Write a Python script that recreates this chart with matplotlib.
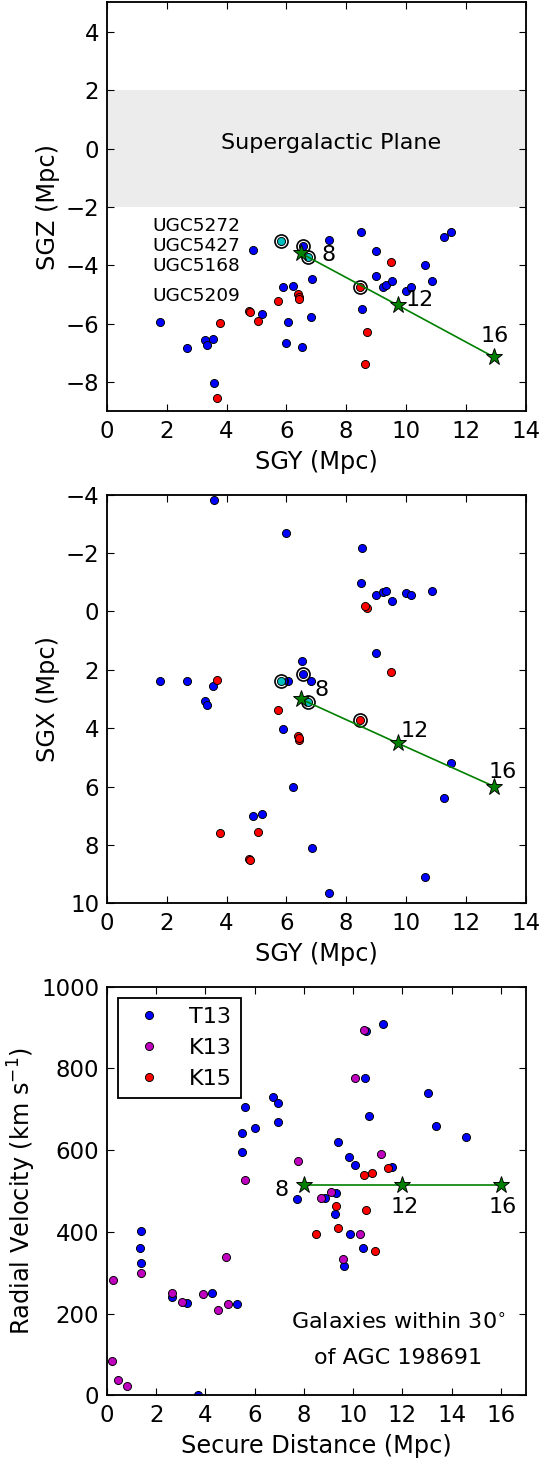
import matplotlib
matplotlib.use('Agg')
import matplotlib.pyplot as plt

# galaxies with 3D supergalactic positions (Mpc)
t13_sgy = [1.77, 2.68, 3.27, 3.33, 3.53, 3.59, 4.90, 5.20, 5.90, 6.04, 5.99, 6.21, 6.52, 6.57, 6.82,
           6.86, 7.43, 8.48, 8.53, 9.00, 9.00, 9.23, 9.34, 9.54, 10.01, 10.16, 10.63, 10.87, 11.28, 11.51]
t13_sgz = [-5.95, -6.84, -6.56, -6.72, -6.53, -8.01, -3.46, -5.66, -4.73, -5.95, -6.67, -4.70, -6.79, -3.33, -5.78,
           -4.47, -3.13, -2.85, -5.49, -3.52, -4.35, -4.75, -4.66, -4.52, -4.88, -4.73, -4.00, -4.53, -3.04, -2.86]
t13_sgx = [2.39, 2.37, 3.08, 3.19, 2.57, -3.82, 7.02, 6.95, 4.04, 2.37, -2.68, 6.01, 1.69, 2.16, 2.37,
           8.09, 9.63, -0.98, -2.16, -0.56, 1.41, -0.65, -0.70, -0.37, -0.63, -0.56, 9.11, -0.71, 6.40, 5.19]

k15_sgy = [3.69, 3.78, 4.74, 4.80, 5.06, 5.71, 6.38, 6.41, 6.43, 8.46, 8.69, 8.63, 9.51]
k15_sgz = [-8.53, -5.97, -5.56, -5.58, -5.90, -5.21, -4.98, -5.08, -5.14, -4.73, -6.28, -7.38, -3.87]
k15_sgx = [2.35, 7.59, 8.47, 8.52, 7.56, 3.39, 4.28, 4.40, 4.35, 3.72, -0.13, -0.19, 2.06]

cyan_sgy = [5.83, 6.71]
cyan_sgz = [-3.18, -3.73]
cyan_sgx = [2.39, 3.11]

# circled UGC galaxies
ugc_names = ['UGC5272', 'UGC5427', 'UGC5168', 'UGC5209']
ugc_sgy = [5.83, 6.57, 6.71, 8.46]
ugc_sgz = [-3.18, -3.33, -3.73, -4.73]
ugc_sgx = [2.39, 2.16, 3.11, 3.72]

# AGC 198691 placed at 8, 12, 16 Mpc
star_dist = [8, 12, 16]
star_sgy = [6.48, 9.72, 12.96]
star_sgz = [-3.58, -5.36, -7.15]
star_sgx = [3.00, 4.51, 6.00]
star_vel = [514, 514, 514]

# distance vs velocity
t13_d = [6.74, 6.94, 5.60, 6.00, 5.48, 6.94, 5.48, 10.52, 11.23, 10.48, 13.02, 10.63, 13.38, 14.60, 9.40,
         9.83, 10.09, 11.57, 7.70, 8.85, 9.30, 9.26, 9.87, 10.40, 9.61, 1.39, 1.36, 1.39, 2.64, 3.24,
         4.25, 5.30, 3.71]
t13_v = [731, 715, 705, 654, 642, 669, 596, 892, 908, 776, 739, 683, 660, 633, 621,
         582, 563, 558, 481, 484, 496, 444, 395, 361, 317, 402, 360, 323, 242, 227,
         250, 223, 0]
k13_d = [5.60, 7.74, 10.43, 10.06, 11.13, 8.68, 9.09, 10.29, 9.57, 1.37, 0.26, 2.65, 3.04, 3.91,
         4.84, 4.51, 4.90, 0.22, 0.43, 0.82]
k13_v = [526, 573, 893, 776, 591, 484, 497, 395, 334, 299, 282, 251, 228, 248,
         338, 210, 224, 84, 39, 23]
k15_d = [11.42, 10.78, 10.44, 9.29, 10.52, 9.37, 8.48, 10.87]
k15_v = [556, 543, 538, 463, 453, 410, 395, 353]

plt.rcParams.update({
    'font.family': 'DejaVu Sans',
    'font.size': 16,
    'axes.labelsize': 17.3,
    'axes.labelpad': 4,
    'axes.linewidth': 1.33,
    'xtick.direction': 'in', 'ytick.direction': 'in',
    'xtick.top': True, 'ytick.right': True,
    'xtick.major.size': 5.3, 'ytick.major.size': 5.3,
    'xtick.major.width': 0.8, 'ytick.major.width': 0.8,
    'xtick.major.pad': 6.5, 'ytick.major.pad': 5.5,
    'xtick.labelsize': 16.5, 'ytick.labelsize': 16.5,
    'xtick.minor.visible': False, 'ytick.minor.visible': False,
    'lines.markersize': 5.8,
    'lines.markeredgewidth': 0.67,
})

fig = plt.figure(figsize=(5.42, 14.6), dpi=100)
left, width, height = 0.1974, 0.7722, 0.2801

mk = dict(linestyle='none', marker='o', markeredgecolor='k')
ring = dict(linestyle='none', marker='o', markerfacecolor='none', markeredgecolor='k',
            markersize=9.4, markeredgewidth=1.2)
star = dict(color='g', marker='*', markersize=12.5, markeredgecolor='k', linewidth=1.2)

# --- SGY vs SGZ ---
ax1 = fig.add_axes([left, 0.7182, width, height])
ax1.axhspan(-2, 2, color='0.925', lw=0, zorder=0)
ax1.text(7.5, 0, 'Supergalactic Plane', ha='center', va='baseline')
ax1.plot(t13_sgy, t13_sgz, color='b', **mk)
ax1.plot(k15_sgy, k15_sgz, color='r', **mk)
ax1.plot(cyan_sgy, cyan_sgz, color='c', **mk)
ax1.plot(ugc_sgy, ugc_sgz, **ring)
ax1.plot(star_sgy, star_sgz, **star)
for name, yy in zip(ugc_names, [-2.66, -3.35, -4.03, -5.06]):
    ax1.text(1.52, yy, name, fontsize=13.3, ha='left', va='center')
for lab, xx, yy in zip(star_dist, [7.42, 10.46, 12.97], [-3.66, -5.17, -6.43]):
    ax1.text(xx, yy, str(lab), ha='center', va='center')
ax1.set_xlim(0, 14)
ax1.set_ylim(-9, 5)
ax1.set_xticks(range(0, 15, 2))
ax1.set_yticks(range(-8, 5, 2))
ax1.set_xlabel('SGY (Mpc)', labelpad=5)
ax1.set_ylabel('SGZ (Mpc)')

# --- SGY vs SGX ---
ax2 = fig.add_axes([left, 0.3812, width, height])
ax2.plot(t13_sgy, t13_sgx, color='b', **mk)
ax2.plot(k15_sgy, k15_sgx, color='r', **mk)
ax2.plot(cyan_sgy, cyan_sgx, color='c', **mk)
ax2.plot(ugc_sgy, ugc_sgx, **ring)
ax2.plot(star_sgy, star_sgx, **star)
for lab, xx, yy in zip(star_dist, [7.19, 10.28, 13.22], [2.69, 4.10, 5.49]):
    ax2.text(xx, yy, str(lab), ha='center', va='center')
ax2.set_xlim(0, 14)
ax2.set_ylim(10, -4)
ax2.set_xticks(range(0, 15, 2))
ax2.set_yticks(range(-4, 11, 2))
ax2.set_xlabel('SGY (Mpc)', labelpad=5)
ax2.set_ylabel('SGX (Mpc)')

# --- distance vs velocity ---
ax3 = fig.add_axes([left, 0.0442, width, height])
ax3.plot(t13_d, t13_v, color='b', label='T13', **mk)
ax3.plot(k13_d, k13_v, color='m', label='K13', **mk)
ax3.plot(k15_d, k15_v, color='r', label='K15', **mk)
ax3.plot(star_dist, star_vel, **star)
for lab, xx, yy in zip(star_dist, [7.09, 12.1, 16.09], [502, 461, 461]):
    ax3.text(xx, yy, str(lab), ha='center', va='center')
ax3.text(11.84, 163, 'Galaxies within 30$^{\\circ}$', ha='center', va='baseline')
ax3.text(11.84, 78, 'of AGC 198691', ha='center', va='baseline')
ax3.set_xlim(0, 17)
ax3.set_ylim(0, 1000)
ax3.set_xticks(range(0, 17, 2))
ax3.set_yticks(range(0, 1001, 200))
ax3.set_xlabel('Secure Distance (Mpc)', labelpad=5)
ax3.set_ylabel('Radial Velocity (km s$^{-1}$)', labelpad=2)
leg = ax3.legend(loc='upper left', numpoints=1, fancybox=False, borderpad=0.4,
                 handlelength=2, handletextpad=0.8, labelspacing=0.5, borderaxespad=0.5,
                 framealpha=1, edgecolor='k')
leg.get_frame().set_linewidth(1.33)

fig.savefig('out.png', dpi=100, facecolor='w')
